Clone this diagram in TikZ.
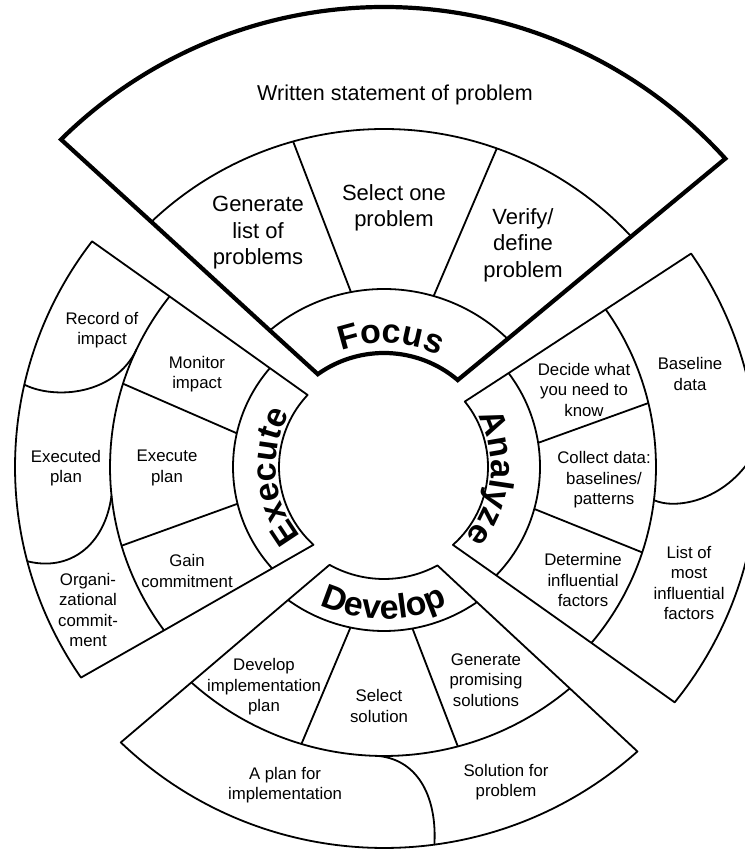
\documentclass[tikz,border=0pt]{standalone}
\usepackage{fontspec}
\setmainfont{Liberation Sans}
\usetikzlibrary{decorations.text}
\newcommand{\lblfont}{\fontsize{34}{34}\selectfont\bfseries}
\begin{document}
\begin{tikzpicture}[x=1pt,y=1pt,
  thinln/.style={line width=1.8pt,line join=round},
  thickln/.style={line width=4.2pt,line join=miter},
  cell/.style={align=center,inner sep=0pt,font=\fontsize{16.8}{20.5}\selectfont},
  bigcell/.style={align=center,inner sep=0pt,font=\fontsize{22}{26.5}\selectfont},
  lbl/.style={decorate,decoration={text along path,text align=center,text={|\lblfont|#1}}}
]
\useasboundingbox (0,0) rectangle (744,850);
\fill[white] (0,0) rectangle (744,850);
\begin{scope}[shift={(384,383)}]
% ---------- Focus ----------
\draw[thinln] (129.9:178pt) arc[start angle=129.9,end angle=46.0,radius=178pt];
\draw[thinln] (133.5:338pt) arc[start angle=133.5,end angle=43.0,radius=338pt];
\draw[thinln] (100.7:178pt) -- (105.6:338pt);
\draw[thinln] (73.8:178pt) -- (70.5:338pt);
\draw[thickln] (125.5:114pt) arc[start angle=125.5,end angle=49.7,radius=114pt]
  -- (46.0:178pt) -- (43.0:338pt) -- (42.1:460pt)
  arc[start angle=42.1,end angle=134.6,radius=460pt]
  -- (133.5:338pt) -- (129.9:178pt) -- cycle;
% ---------- Execute ----------
\draw[thinln] (139.1:151pt) arc[start angle=139.1,end angle=222.2,radius=151pt];
\draw[thinln] (141.5:274pt) arc[start angle=141.5,end angle=216.6,radius=274pt];
\draw[thinln] (162.3:274pt) -- (167.1:151pt);
\draw[thinln] (196.7:274pt) -- (194.1:151pt);
\draw[thinln] (167.1:369pt) .. controls (-329,67) and (-269,72) .. (154.6:274pt);
\draw[thinln] (194.8:369pt) .. controls (-314,-105) and (-279,-78) .. (186:274pt);
\draw[thinln] (136.7:105pt) arc[start angle=136.7,end angle=227.8,radius=105pt]
  -- (222.2:151pt) -- (216.6:274pt) -- (214.8:369pt)
  arc[start angle=214.8,end angle=142.3,radius=369pt]
  -- (141.5:274pt) -- (139.1:151pt) -- cycle;
% ---------- Analyze ----------
\draw[thinln] (37:156pt) arc[start angle=37,end angle=-44,radius=156pt];
\draw[thinln] (35.4:272pt) arc[start angle=35.4,end angle=-40.3,radius=272pt];
\draw[thinln] (8.9:156pt) -- (13.6:272pt);
\draw[thinln] (-15.6:156pt) -- (-18.3:272pt);
\draw[thinln] (-7:272pt) .. controls (291,-43) and (345,-35) .. (3:374pt);
\draw[thinln] (39:104pt) arc[start angle=39,end angle=-48.5,radius=104pt]
  -- (-44:156pt) -- (-40.3:272pt) -- (-39:374pt)
  arc[start angle=-39,end angle=34.8,radius=374pt]
  -- (35.4:272pt) -- (37:156pt) -- cycle;
% ---------- Develop ----------
\draw[thinln] (234.2:164pt) arc[start angle=234.2,end angle=304.5,radius=164pt];
\draw[thinln] (228.2:289pt) arc[start angle=228.2,end angle=310,radius=289pt];
\draw[thinln] (-101.8:164pt) -- (-106.6:289pt);
\draw[thinln] (-80:164pt) -- (-75.2:289pt);
\draw[thinln] (-91.2:289pt) .. controls (36,-293) and (53,-333) .. (-82.4:381pt);
\draw[thinln] (240.9:112pt) arc[start angle=240.9,end angle=298.5,radius=112pt]
  -- (304.5:164pt) -- (310:289pt) -- (311.7:381pt)
  arc[start angle=311.7,end angle=226.3,radius=381pt]
  -- (228.2:289pt) -- (234.2:164pt) -- cycle;
% ---------- band labels ----------
\path[lbl=Focus] (117:124pt) arc[start angle=117,end angle=57,radius=124pt];
\path[lbl=Execute] (215:108pt) arc[start angle=215,end angle=155,radius=108pt];
\path[lbl=Analyze] (24:107pt) arc[start angle=24,end angle=-36,radius=107pt];
\path[lbl=Develop] (235:152pt) arc[start angle=235,end angle=305,radius=152pt];
\end{scope}
% ---------- cell texts ----------
\node[bigcell,font=\fontsize{21.5}{26}\selectfont] (ws) at (395,755) {Written statement of problem};
\node[bigcell] (gen) at (258,617) {Generate\\list of\\problems};
\node[bigcell] (sel) at (394,642) {Select one\\problem};
\node[bigcell] (ver) at (523,605) {Verify/\\define\\problem};
\node[cell] (rec) at (102,520) {Record of\\impact};
\node[cell] (mon) at (197,476) {Monitor\\impact};
\node[cell] (exd) at (66,382) {Executed\\plan};
\node[cell] (exp) at (167,382) {Execute\\plan};
\node[cell] (gain) at (187,279) {Gain\\commitment};
\node[cell] (org) at (88,240) {Organi-\\zational\\commit-\\ment};
\node[cell] (dec) at (584,460) {Decide what\\you need to\\know};
\node[cell] (base) at (690,476) {Baseline\\data};
\node[cell] (col) at (604,370) {Collect data:\\baselines/\\patterns};
\node[cell] (det) at (583,270) {Determine\\influential\\factors};
\node[cell] (lst) at (689,267) {List of\\most\\influential\\factors};
\node[cell] (dimp) at (264,163) {Develop\\implementation\\plan};
\node[cell] (ssol) at (379,144) {Select\\solution};
\node[cell] (gps) at (486,170) {Generate\\promising\\solutions};
\node[cell] (apl) at (285,65) {A plan for\\implementation};
\node[cell] (sfp) at (506,68) {Solution for\\problem};
\end{tikzpicture}
\end{document}
